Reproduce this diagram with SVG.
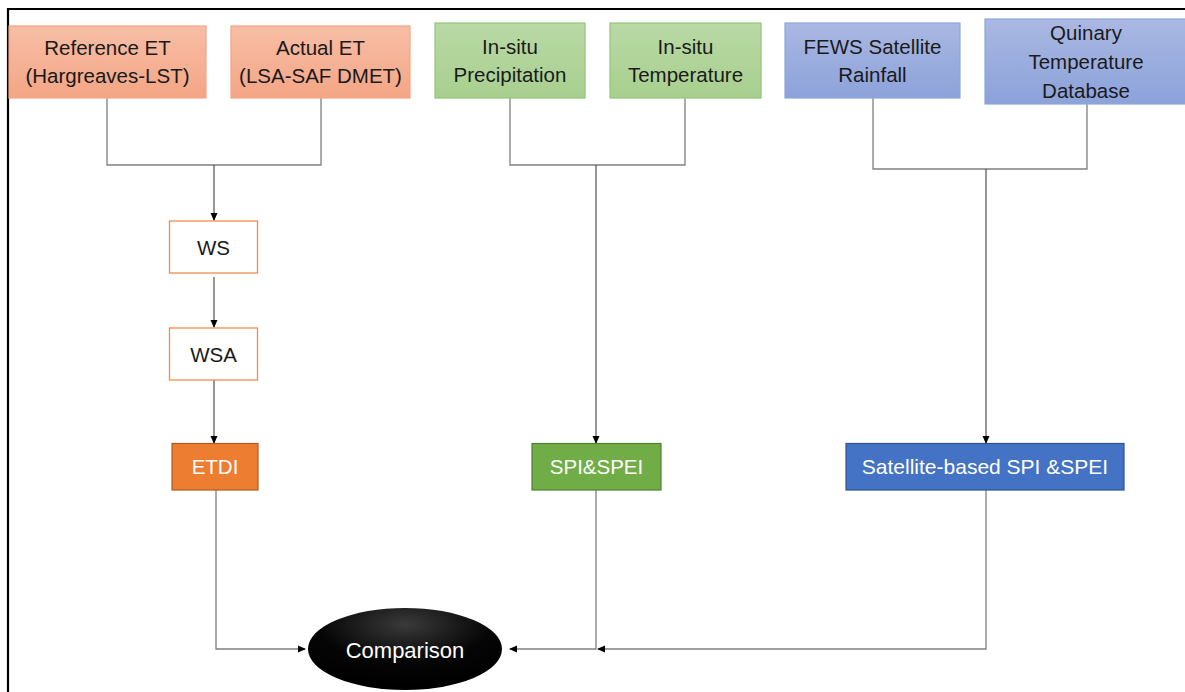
<svg xmlns="http://www.w3.org/2000/svg" width="1185" height="692" viewBox="0 0 1185 692">
<defs>
<linearGradient id="gOr" x1="0" y1="0" x2="0" y2="1"><stop offset="0" stop-color="#F7BEA6"/><stop offset="1" stop-color="#F4A585"/></linearGradient>
<linearGradient id="gGr" x1="0" y1="0" x2="0" y2="1"><stop offset="0" stop-color="#B9D9A5"/><stop offset="1" stop-color="#A8CF8F"/></linearGradient>
<linearGradient id="gBl" x1="0" y1="0" x2="0" y2="1"><stop offset="0" stop-color="#AAB8E2"/><stop offset="1" stop-color="#8CA2DA"/></linearGradient>
<radialGradient id="gEl" cx="0.5" cy="0.2" r="0.75"><stop offset="0" stop-color="#3a3a3a"/><stop offset="0.6" stop-color="#050505"/><stop offset="1" stop-color="#000"/></radialGradient>
<marker id="arr" markerWidth="8" markerHeight="8" refX="7" refY="4" orient="auto" markerUnits="userSpaceOnUse"><path d="M0,0.5 L8,4 L0,7.5 Z" fill="#000"/></marker>
</defs>
<style>
text{font-family:"Liberation Sans",Arial,sans-serif;font-size:20.5px;text-anchor:middle;fill:#1a1a1a}
.w{fill:#fff}
.or{fill:url(#gOr);stroke:#F4A582;stroke-width:1.2}
.gr{fill:url(#gGr);stroke:#92C577;stroke-width:1.2}
.bl{fill:url(#gBl);stroke:#8EA6DC;stroke-width:1.2}
.ws{fill:#fff;stroke:#F08C4E;stroke-width:1.3}
.conn{fill:none;stroke:#808080;stroke-width:1.3}
.dk{fill:none;stroke:#404040;stroke-width:1.1}
</style>
<rect width="1185" height="692" fill="#fff"/>
<path d="M8,692 V9 H1185" fill="none" stroke="#000" stroke-width="2.2"/>

<g id="connectors">
<path class="conn" d="M107,98 V165 H321 V98"/>
<path class="dk" d="M214,165 V220" marker-end="url(#arr)"/>
<path class="dk" d="M214,277 V327" marker-end="url(#arr)"/>
<path class="dk" d="M214,380 V443" marker-end="url(#arr)"/>
<path class="conn" d="M510,98 V165 H685 V98"/>
<path class="dk" d="M596,165 V443" marker-end="url(#arr)"/>
<path class="conn" d="M873,98 V169 H1087 V104"/>
<path class="dk" d="M986,169 V443" marker-end="url(#arr)"/>
<path class="conn" d="M216,490 V649 H305" marker-end="url(#arr)"/>
<path class="conn" d="M596,490 V649 H510" marker-end="url(#arr)"/>
<path class="conn" d="M986,490 V649 H598" marker-end="url(#arr)"/>
</g>

<g id="refET"><rect class="or" x="9" y="26" width="197" height="72"/><text x="107.5" y="55">Reference ET</text><text x="107.5" y="83">(Hargreaves-LST)</text></g>
<g id="actET"><rect class="or" x="231" y="26" width="179" height="72"/><text x="320.5" y="55">Actual ET</text><text x="320.5" y="83">(LSA-SAF DMET)</text></g>
<g id="insituP"><rect class="gr" x="435" y="23" width="150" height="75"/><text x="510" y="54">In-situ</text><text x="510" y="82">Precipitation</text></g>
<g id="insituT"><rect class="gr" x="610" y="23" width="151" height="75"/><text x="685.5" y="54">In-situ</text><text x="685.5" y="82">Temperature</text></g>
<g id="fews"><rect class="bl" x="785" y="23" width="175" height="75"/><text x="872.5" y="54">FEWS Satellite</text><text x="872.5" y="82">Rainfall</text></g>
<g id="quinary"><rect class="bl" x="985" y="19" width="205" height="85"/><text x="1086" y="40">Quinary</text><text x="1086" y="69">Temperature</text><text x="1086" y="98">Database</text></g>

<g id="ws"><rect class="ws" x="169.5" y="221" width="88" height="52"/><text x="213.5" y="255">WS</text></g>
<g id="wsa"><rect class="ws" x="169.5" y="328" width="88" height="52"/><text x="213.5" y="362">WSA</text></g>
<g id="etdi"><rect x="172" y="443.5" width="86" height="46.5" fill="#ED7D31" stroke="#AE5A21" stroke-width="1.2"/><text class="w" x="215" y="474">ETDI</text></g>
<g id="spi"><rect x="532" y="443.5" width="129" height="46.5" fill="#70AD47" stroke="#507E32" stroke-width="1.2"/><text class="w" x="596.5" y="474">SPI&amp;SPEI</text></g>
<g id="satspi"><rect x="846" y="443.5" width="278" height="46.5" fill="#4472C4" stroke="#2F528F" stroke-width="1.2"/><text class="w" x="985" y="474" style="font-size:21px">Satellite-based SPI &amp;SPEI</text></g>
<g id="comparison"><ellipse cx="405" cy="649" rx="97" ry="41" fill="url(#gEl)"/><text class="w" x="405" y="658" style="font-size:22px">Comparison</text></g>
</svg>
